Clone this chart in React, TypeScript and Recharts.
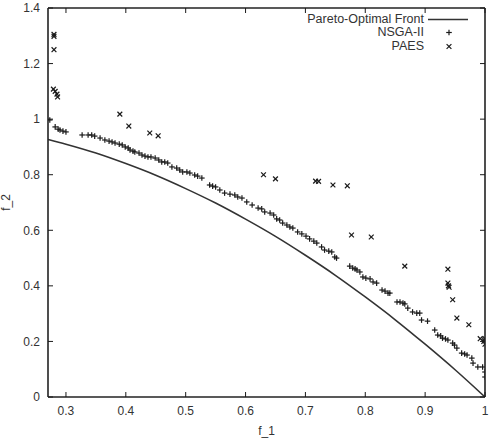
import { ComposedChart, Line, Scatter, XAxis, YAxis } from 'recharts';

// Pareto-optimal front
const frontF1 = [0.27, 0.3, 0.35, 0.4, 0.45, 0.5, 0.55, 0.6, 0.65, 0.7, 0.75, 0.8, 0.85, 0.9, 0.95, 1.0];
const frontF2 = [0.927, 0.91, 0.878, 0.84, 0.798, 0.75, 0.698, 0.64, 0.578, 0.51, 0.438, 0.36, 0.278, 0.19, 0.098, 0.0];

// NSGA-II solutions ("+")
const nsgaF1 = [
  0.273, 0.282, 0.287, 0.29, 0.295, 0.3, 0.327, 0.337, 0.343, 0.348, 0.357, 0.365, 0.372, 0.377, 0.382,
  0.389, 0.394, 0.399, 0.404, 0.407, 0.412, 0.415, 0.422, 0.427, 0.432, 0.437, 0.442, 0.449, 0.455, 0.46,
  0.465, 0.47, 0.477, 0.485, 0.49, 0.495, 0.502, 0.507, 0.515, 0.52, 0.527, 0.54, 0.545, 0.55, 0.557,
  0.565, 0.574, 0.582, 0.587, 0.594, 0.602, 0.611, 0.621, 0.627, 0.632, 0.641, 0.647, 0.652, 0.657, 0.662,
  0.669, 0.674, 0.679, 0.687, 0.694, 0.701, 0.707, 0.714, 0.719, 0.727, 0.732, 0.739, 0.744, 0.749, 0.752,
  0.774, 0.779, 0.783, 0.786, 0.791, 0.796, 0.801, 0.808, 0.813, 0.819, 0.828, 0.833, 0.838, 0.841, 0.853,
  0.858, 0.863, 0.866, 0.871, 0.879, 0.886, 0.891, 0.894, 0.904, 0.916, 0.921, 0.926, 0.929, 0.934, 0.938,
  0.946, 0.949, 0.953, 0.961, 0.966, 0.97, 0.978, 0.98, 0.988, 0.996, 1.0, 1.0,
];
const nsgaF2 = [
  0.997, 0.972, 0.964, 0.961, 0.957, 0.954, 0.943, 0.943, 0.943, 0.939, 0.932, 0.925, 0.921, 0.918, 0.914,
  0.91, 0.907, 0.9, 0.896, 0.889, 0.885, 0.882, 0.878, 0.871, 0.867, 0.864, 0.864, 0.86, 0.853, 0.846,
  0.846, 0.842, 0.828, 0.824, 0.817, 0.81, 0.81, 0.806, 0.799, 0.795, 0.788, 0.763, 0.759, 0.756, 0.745,
  0.734, 0.73, 0.727, 0.72, 0.716, 0.702, 0.691, 0.68, 0.677, 0.666, 0.662, 0.655, 0.641, 0.637, 0.626,
  0.619, 0.612, 0.608, 0.594, 0.587, 0.579, 0.569, 0.561, 0.554, 0.54, 0.529, 0.525, 0.522, 0.504, 0.5,
  0.471, 0.464, 0.461, 0.457, 0.45, 0.432, 0.428, 0.425, 0.414, 0.41, 0.385, 0.381, 0.374, 0.374, 0.342,
  0.342, 0.338, 0.335, 0.32, 0.306, 0.302, 0.302, 0.277, 0.273, 0.241, 0.223, 0.22, 0.212, 0.209, 0.205,
  0.194, 0.187, 0.176, 0.158, 0.155, 0.151, 0.14, 0.122, 0.108, 0.108, 0.09, 0.072,
];

// PAES solutions ("x")
const paesF1 = [
  0.28, 0.28, 0.28, 0.279, 0.282, 0.285, 0.286, 0.39, 0.405, 0.44, 0.454, 0.63, 0.65, 0.717, 0.722, 0.746,
  0.77, 0.777, 0.81, 0.866, 0.938, 0.938, 0.939, 0.94, 0.946, 0.953, 0.973, 0.992, 0.998, 1.0, 1.0, 0.999,
];
const paesF2 = [
  1.305, 1.298, 1.25, 1.108, 1.1, 1.09, 1.08, 1.018, 0.975, 0.95, 0.94, 0.8, 0.785, 0.777, 0.776, 0.763,
  0.76, 0.583, 0.576, 0.471, 0.46, 0.41, 0.4, 0.395, 0.35, 0.284, 0.26, 0.21, 0.2, 0.19, 0.21, 0.205,
];

const xTicks = [0.3, 0.4, 0.5, 0.6, 0.7, 0.8, 0.9, 1];
const yTicks = [0, 0.2, 0.4, 0.6, 0.8, 1, 1.2, 1.4];
const X_DOMAIN: [number, number] = [0.27, 1];
const Y_DOMAIN: [number, number] = [0, 1.4];

const frontData = frontF1.map((x, i) => ({ x, y: frontF2[i] }));
const nsgaData = nsgaF1.map((x, i) => ({ x, y: nsgaF2[i] }));
const paesData = paesF1.map((x, i) => ({ x, y: paesF2[i] }));

const INK = '#1a1a1a';
const TEXT = '#333';
const FRAME = '#222';
const FONT = '"Liberation Sans", Arial, sans-serif';
const TICK_LEN = 5;

// chart size and plot box (margins + axis sizes below give this box)
const W = 496;
const H = 438;
const PLOT = { left: 48, top: 8, right: 485, bottom: 397 };

function PlusMark(props: any) {
  const { cx, cy } = props;
  if (cx == null || cy == null) return null;
  const r = 2.8;
  return (
    <g stroke={INK} strokeWidth={1.2}>
      <line x1={cx - r} y1={cy} x2={cx + r} y2={cy} />
      <line x1={cx} y1={cy - r} x2={cx} y2={cy + r} />
    </g>
  );
}

function CrossMark(props: any) {
  const { cx, cy } = props;
  if (cx == null || cy == null) return null;
  const r = 2.4;
  return (
    <g stroke={INK} strokeWidth={1.2}>
      <line x1={cx - r} y1={cy - r} x2={cx + r} y2={cy + r} />
      <line x1={cx - r} y1={cy + r} x2={cx + r} y2={cy - r} />
    </g>
  );
}

// gnuplot style border: top/right sides plus inward ticks on all four sides
function Frame() {
  const sx = (v: number) =>
    PLOT.left + ((v - X_DOMAIN[0]) / (X_DOMAIN[1] - X_DOMAIN[0])) * (PLOT.right - PLOT.left);
  const sy = (v: number) =>
    PLOT.bottom - ((v - Y_DOMAIN[0]) / (Y_DOMAIN[1] - Y_DOMAIN[0])) * (PLOT.bottom - PLOT.top);
  return (
    <svg width={W} height={H} style={{ position: 'absolute', left: 0, top: 0, pointerEvents: 'none' }}>
      <line x1={PLOT.left} y1={PLOT.top} x2={PLOT.right} y2={PLOT.top} stroke={FRAME} strokeWidth={1.6} />
      <line x1={PLOT.right} y1={PLOT.top} x2={PLOT.right} y2={PLOT.bottom} stroke={FRAME} strokeWidth={1.6} />
      <g stroke={INK} strokeWidth={1}>
        {xTicks.map((t) => (
          <g key={`x${t}`}>
            <line x1={sx(t)} y1={PLOT.bottom} x2={sx(t)} y2={PLOT.bottom - TICK_LEN} />
            <line x1={sx(t)} y1={PLOT.top} x2={sx(t)} y2={PLOT.top + TICK_LEN} />
          </g>
        ))}
        {yTicks.map((t) => (
          <g key={`y${t}`}>
            <line x1={PLOT.left} y1={sy(t)} x2={PLOT.left + TICK_LEN} y2={sy(t)} />
            <line x1={PLOT.right} y1={sy(t)} x2={PLOT.right - TICK_LEN} y2={sy(t)} />
          </g>
        ))}
      </g>
    </svg>
  );
}

// key box, drawn over the plot in the top right corner
function KeyBox() {
  const row = { display: 'flex', alignItems: 'center', justifyContent: 'flex-end', height: 13.3 } as const;
  const label = { marginRight: 4, whiteSpace: 'nowrap' } as const;
  return (
    <div
      style={{
        position: 'absolute',
        top: 13,
        right: 28,
        fontFamily: FONT,
        fontSize: 12.5,
        color: TEXT,
        lineHeight: '13px',
      }}
    >
      <div style={row}>
        <span style={label}>Pareto-Optimal Front</span>
        <svg width={40} height={13}>
          <line x1={0} y1={6.5} x2={40} y2={6.5} stroke="#333" strokeWidth={1.5} />
        </svg>
      </div>
      <div style={row}>
        <span style={label}>NSGA-II</span>
        <svg width={40} height={13}>
          <PlusMark cx={21} cy={6.5} />
        </svg>
      </div>
      <div style={row}>
        <span style={label}>PAES</span>
        <svg width={40} height={13}>
          <CrossMark cx={21} cy={6.5} />
        </svg>
      </div>
    </div>
  );
}

const axisLine = { stroke: FRAME, strokeWidth: 1.6 };
const tickText = { fontSize: 12, fill: TEXT, fontFamily: FONT };

export default function App() {
  return (
    <div style={{ position: 'absolute', left: 0, top: 0, width: W, height: H, background: '#fff' }}>
      <ComposedChart
        width={W}
        height={H}
        margin={{ top: PLOT.top, right: W - PLOT.right, bottom: 0, left: 0 }}
      >
        <XAxis
          dataKey="x"
          type="number"
          domain={X_DOMAIN}
          allowDataOverflow
          ticks={xTicks}
          height={H - PLOT.bottom}
          tickSize={0}
          tickMargin={9}
          tick={tickText}
          tickLine={false}
          axisLine={axisLine}
          label={{ value: 'f_1', position: 'insideBottom', offset: 3, fontSize: 12, fill: TEXT, fontFamily: FONT }}
        />
        <YAxis
          dataKey="y"
          type="number"
          domain={Y_DOMAIN}
          allowDataOverflow
          ticks={yTicks}
          width={PLOT.left}
          tickSize={0}
          tickMargin={8}
          tick={tickText}
          tickLine={false}
          axisLine={axisLine}
          label={{ value: 'f_2', angle: -90, position: 'insideLeft', offset: 6, fontSize: 12, fill: TEXT, fontFamily: FONT, style: { textAnchor: 'middle' } }}
        />
        <Line
          data={frontData}
          dataKey="y"
          type="monotone"
          stroke="#333"
          strokeWidth={1.6}
          dot={false}
          isAnimationActive={false}
        />
        <Scatter data={nsgaData} dataKey="y" shape={PlusMark} isAnimationActive={false} />
        <Scatter data={paesData} dataKey="y" shape={CrossMark} isAnimationActive={false} />
      </ComposedChart>
      <Frame />
      <KeyBox />
    </div>
  );
}
